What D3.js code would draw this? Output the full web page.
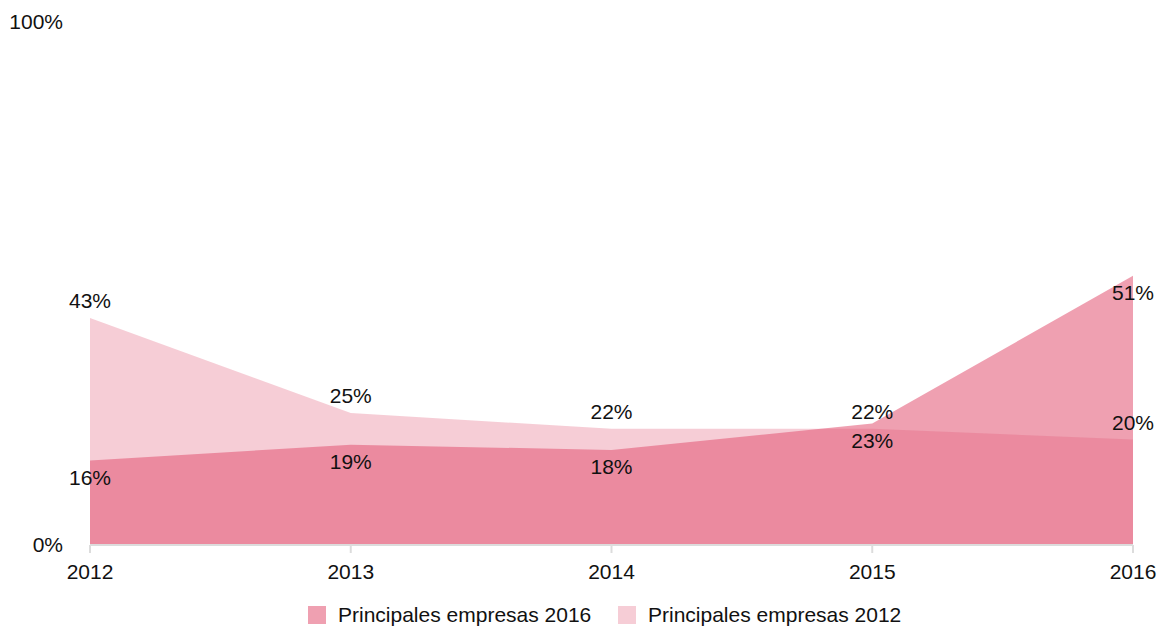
<!DOCTYPE html>
<html>
<head>
<meta charset="utf-8">
<script src="https://cdn.jsdelivr.net/npm/d3@7"></script>
<style>
  body { margin: 0; background: #fff; }
  text { font-family: "Liberation Sans", Arial, Helvetica, sans-serif; fill: #111; }
</style>
</head>
<body>
<div id="chart"></div>
<script>
// data
const years = ["2012", "2013", "2014", "2015", "2016"];
const empresas2016 = [16, 19, 18, 23, 51];
const empresas2012 = [43, 25, 22, 22, 20];
const seriesNames = ["Principales empresas 2016", "Principales empresas 2012"];
const yTicks = [0, 100];

const width = 1157, height = 627;
const margin = { top: 17, right: 24, bottom: 82, left: 90 };
const fontSize = "21px";

const svg = d3.select("#chart").append("svg")
    .attr("width", width)
    .attr("height", height);

const x = d3.scalePoint()
    .domain(years)
    .range([margin.left, width - margin.right]);

const y = d3.scaleLinear()
    .domain([0, 100])
    .range([height - margin.bottom, margin.top]);

const base = "rgb(226,88,118)";
const series = [
    { name: seriesNames[0], values: empresas2016, opacity: 0.57, labelDy: 17 },
    { name: seriesNames[1], values: empresas2012, opacity: 0.3, labelDy: -17 }
];

const area = d3.area()
    .x((d, i) => x(years[i]))
    .y0(y(0))
    .y1(d => y(d));

// areas: 2016 first, 2012 on top, both translucent
svg.append("g").selectAll("path")
    .data(series)
    .join("path")
    .attr("d", d => area(d.values))
    .attr("fill", base)
    .attr("fill-opacity", d => d.opacity);

// x axis line + ticks
const axis = svg.append("g").attr("transform", `translate(0,${y(0)})`);
axis.append("line")
    .attr("x1", x(years[0]))
    .attr("x2", x(years[years.length - 1]))
    .attr("stroke", "#dcdcdc")
    .attr("stroke-width", 2);
axis.selectAll(".tick")
    .data(years)
    .join("line")
    .attr("x1", d => x(d)).attr("x2", d => x(d))
    .attr("y1", 0).attr("y2", 8)
    .attr("stroke", "#dcdcdc")
    .attr("stroke-width", 2);
axis.selectAll("text")
    .data(years)
    .join("text")
    .attr("x", d => x(d))
    .attr("y", 27)
    .attr("dy", "0.35em")
    .attr("text-anchor", "middle")
    .attr("font-size", fontSize)
    .text(d => d);

// y labels (only 0% and 100%)
svg.append("g").selectAll("text")
    .data(yTicks)
    .join("text")
    .attr("x", 63)
    .attr("y", d => y(d) + (d === 100 ? 5 : 0))
    .attr("dy", "0.35em")
    .attr("text-anchor", "end")
    .attr("font-size", fontSize)
    .text(d => d + "%");

// value labels
series.forEach(s => {
    svg.append("g").selectAll("text")
        .data(s.values)
        .join("text")
        .attr("x", (d, i) => x(years[i]))
        .attr("y", d => y(d) + s.labelDy)
        .attr("dy", "0.35em")
        .attr("text-anchor", "middle")
        .attr("font-size", fontSize)
        .text(d => d + "%");
});

// legend
const legend = svg.append("g").attr("transform", "translate(308,615)");
const legendX = [0, 310];
const item = legend.selectAll("g")
    .data(series)
    .join("g")
    .attr("transform", (d, i) => `translate(${legendX[i]},0)`);
item.append("rect")
    .attr("x", 0).attr("y", -9)
    .attr("width", 18).attr("height", 18)
    .attr("fill", base)
    .attr("fill-opacity", d => d.opacity);
item.append("text")
    .attr("x", 30)
    .attr("dy", "0.35em")
    .attr("font-size", fontSize)
    .text(d => d.name);
</script>
</body>
</html>
